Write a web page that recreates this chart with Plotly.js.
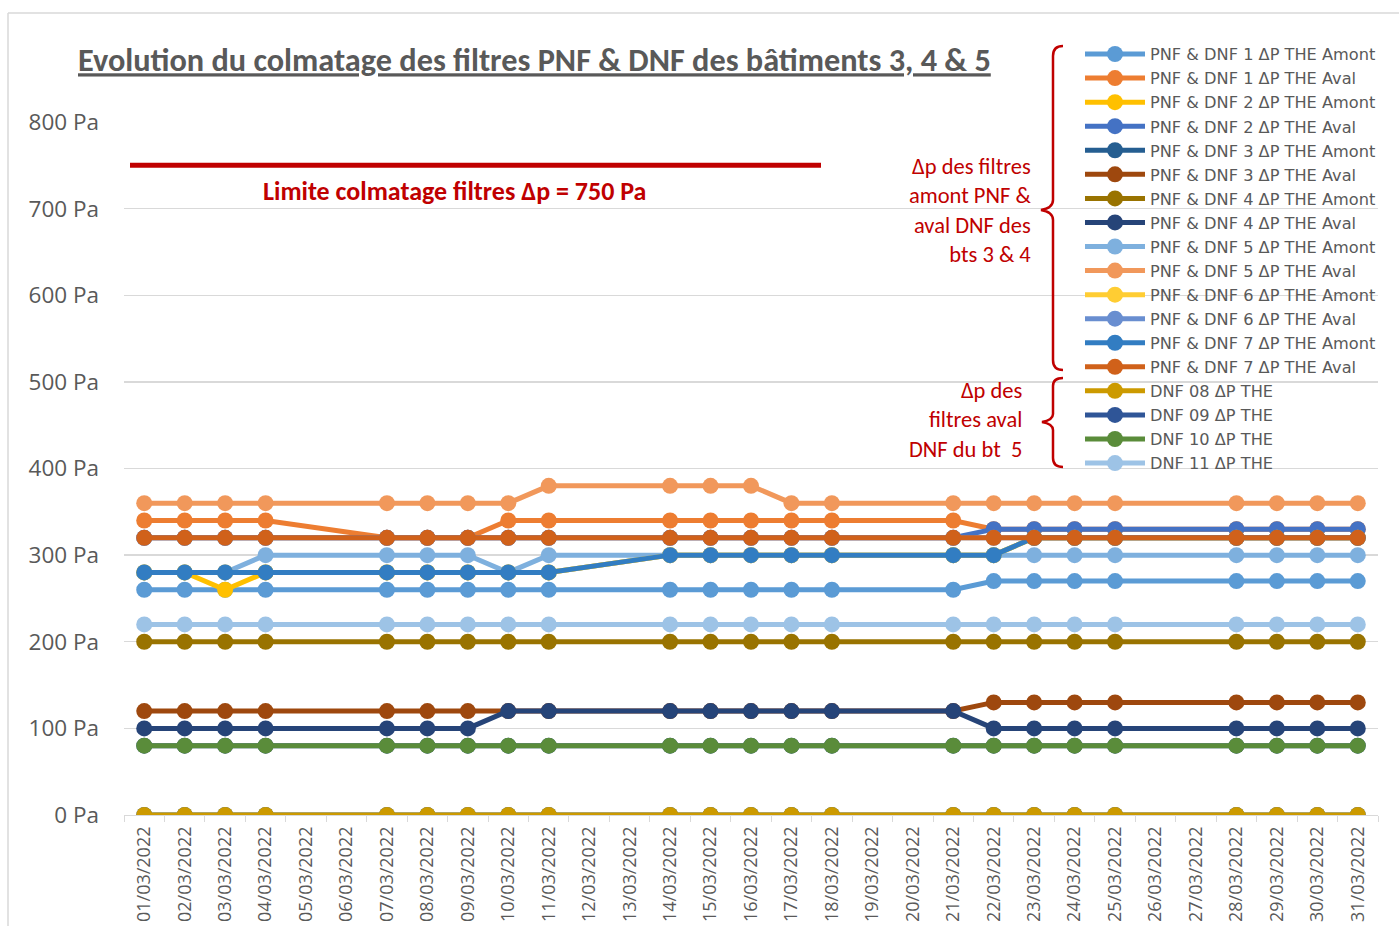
<!DOCTYPE html>
<html>
<head>
<meta charset="utf-8">
<script src="https://cdn.plot.ly/plotly-3.0.1.min.js"></script>
<style>
html,body{margin:0;padding:0;background:#fff;}
#chart{width:1399px;height:926px;}
</style>
</head>
<body>
<div id="chart"></div>
<script>
// ---- Data ----
var dates = ["01/03/2022","02/03/2022","03/03/2022","04/03/2022","05/03/2022","06/03/2022","07/03/2022","08/03/2022","09/03/2022","10/03/2022","11/03/2022","12/03/2022","13/03/2022","14/03/2022","15/03/2022","16/03/2022","17/03/2022","18/03/2022","19/03/2022","20/03/2022","21/03/2022","22/03/2022","23/03/2022","24/03/2022","25/03/2022","26/03/2022","27/03/2022","28/03/2022","29/03/2022","30/03/2022","31/03/2022"];
var n = null;
var pnf1Amont = [260,260,260,260,n,n,260,260,260,260,260,n,n,260,260,260,260,260,n,n,260,270,270,270,270,n,n,270,270,270,270];
var pnf1Aval  = [340,340,340,340,n,n,320,320,320,340,340,n,n,340,340,340,340,340,n,n,340,330,330,330,330,n,n,330,330,330,330];
var pnf2Amont = [280,280,260,280,n,n,280,280,280,280,280,n,n,300,300,300,300,300,n,n,300,300,320,320,320,n,n,320,320,320,320];
var pnf2Aval  = [320,320,320,320,n,n,320,320,320,320,320,n,n,320,320,320,320,320,n,n,320,330,330,330,330,n,n,330,330,330,330];
var pnf3Amont = [0,0,0,0,n,n,0,0,0,0,0,n,n,0,0,0,0,0,n,n,0,0,0,0,0,n,n,0,0,0,0];
var pnf3Aval  = [120,120,120,120,n,n,120,120,120,120,120,n,n,120,120,120,120,120,n,n,120,130,130,130,130,n,n,130,130,130,130];
var pnf4Amont = [200,200,200,200,n,n,200,200,200,200,200,n,n,200,200,200,200,200,n,n,200,200,200,200,200,n,n,200,200,200,200];
var pnf4Aval  = [100,100,100,100,n,n,100,100,100,120,120,n,n,120,120,120,120,120,n,n,120,100,100,100,100,n,n,100,100,100,100];
var pnf5Amont = [280,280,280,300,n,n,300,300,300,280,300,n,n,300,300,300,300,300,n,n,300,300,300,300,300,n,n,300,300,300,300];
var pnf5Aval  = [360,360,360,360,n,n,360,360,360,360,380,n,n,380,380,380,360,360,n,n,360,360,360,360,360,n,n,360,360,360,360];
var pnf6Amont = [280,280,280,280,n,n,280,280,280,280,280,n,n,300,300,300,300,300,n,n,300,300,320,320,320,n,n,320,320,320,320];
var pnf6Aval  = [320,320,320,320,n,n,320,320,320,320,320,n,n,320,320,320,320,320,n,n,320,320,320,320,320,n,n,320,320,320,320];
var pnf7Amont = [280,280,280,280,n,n,280,280,280,280,280,n,n,300,300,300,300,300,n,n,300,300,320,320,320,n,n,320,320,320,320];
var pnf7Aval  = [320,320,320,320,n,n,320,320,320,320,320,n,n,320,320,320,320,320,n,n,320,320,320,320,320,n,n,320,320,320,320];
var dnf08 = [0,0,0,0,n,n,0,0,0,0,0,n,n,0,0,0,0,0,n,n,0,0,0,0,0,n,n,0,0,0,0];
var dnf09 = [80,80,80,80,n,n,80,80,80,80,80,n,n,80,80,80,80,80,n,n,80,80,80,80,80,n,n,80,80,80,80];
var dnf10 = [80,80,80,80,n,n,80,80,80,80,80,n,n,80,80,80,80,80,n,n,80,80,80,80,80,n,n,80,80,80,80];
var dnf11 = [220,220,220,220,n,n,220,220,220,220,220,n,n,220,220,220,220,220,n,n,220,220,220,220,220,n,n,220,220,220,220];

var seriesNames = ["PNF & DNF 1 ΔP THE Amont","PNF & DNF 1 ΔP THE Aval","PNF & DNF 2 ΔP THE Amont","PNF & DNF 2 ΔP THE Aval","PNF & DNF 3 ΔP THE Amont","PNF & DNF 3 ΔP THE Aval","PNF & DNF 4 ΔP THE Amont","PNF & DNF 4 ΔP THE Aval","PNF & DNF 5 ΔP THE Amont","PNF & DNF 5 ΔP THE Aval","PNF & DNF 6 ΔP THE Amont","PNF & DNF 6 ΔP THE Aval","PNF & DNF 7 ΔP THE Amont","PNF & DNF 7 ΔP THE Aval","DNF 08 ΔP THE","DNF 09 ΔP THE","DNF 10 ΔP THE","DNF 11 ΔP THE"];
var seriesValues = [pnf1Amont,pnf1Aval,pnf2Amont,pnf2Aval,pnf3Amont,pnf3Aval,pnf4Amont,pnf4Aval,pnf5Amont,pnf5Aval,pnf6Amont,pnf6Aval,pnf7Amont,pnf7Aval,dnf08,dnf09,dnf10,dnf11];
var seriesColors = ["#5B9BD5","#ED7D31","#FFC000","#4472C4","#255E91","#9E480E","#997300","#264478","#7EB0DE","#F1985B","#FFCD33","#698ED0","#327DC2","#D0611A","#CC9A00","#2F5597","#5A8C3A","#9DC3E6"];
var limitValue = 750;
var yTickVals = [0,100,200,300,400,500,600,700,800];
var yTickText = ["0 Pa","100 Pa","200 Pa","300 Pa","400 Pa","500 Pa","600 Pa","700 Pa","800 Pa"];

// ---- Chart ----
var FONT = "Carlito, Calibri, Lato, sans-serif";
var FONT2 = "Open Sans, Noto Sans, sans-serif";
var FONT3 = "DejaVu Sans, Open Sans, sans-serif";
var GREY = "#595959";
var RED = "#C00000";

var traces = seriesNames.map(function(name, i){
  return {
    type: "scatter", mode: "lines+markers", name: name,
    x: dates, y: seriesValues[i], connectgaps: true,
    line: {color: seriesColors[i], width: 5},
    marker: {color: seriesColors[i], size: 16, symbol: "circle"}
  };
});

// pixel -> paper helpers for decorations
var L = 124, R = 21, T = 122, B = 111, W = 1399, H = 926;
var PW = W - L - R, PH = H - T - B;
function px(x){ return (x - L) / PW; }
function py(y){ return (H - B - y) / PH; }
function pathFrom(cmds){
  return cmds.map(function(c){
    var s = c[0];
    for (var k = 1; k < c.length; k += 2) s += (k>1?" ":"") + px(c[k]).toFixed(5) + "," + py(c[k+1]).toFixed(5);
    return s;
  }).join(" ");
}
var brace1 = pathFrom([["M",1063,46],["Q",1053,46,1053,56],["L",1053,200],["Q",1053,208,1041,210],["Q",1053,212,1053,220],["L",1053,360],["Q",1053,370,1063,370]]);
var brace2 = pathFrom([["M",1063,378],["Q",1053,378,1053,386],["L",1053,414],["Q",1053,420,1042,422],["Q",1053,424,1053,430],["L",1053,458],["Q",1053,467,1063,467]]);

var layout = {
  width: W, height: H,
  margin: {l: L, r: R, t: T, b: B},
  paper_bgcolor: "#ffffff", plot_bgcolor: "rgba(0,0,0,0)",
  font: {family: FONT, color: GREY},
  showlegend: true,
  title: {
    text: "Evolution du colmatage des filtres PNF & DNF des bâtiments 3, 4 & 5",
    font: {family: FONT, size: 32.3, color: GREY, weight: "bold", lineposition: "under"},
    xref: "container", yref: "container", x: 78/W, xanchor: "left", y: 1 - 60/H, yanchor: "middle"
  },
  xaxis: {
    type: "category", categoryorder: "array", categoryarray: dates,
    range: [-0.5, dates.length - 0.5],
    showgrid: false, zeroline: false,
    showline: true, linecolor: "#D9D9D9", linewidth: 1.3,
    ticks: "outside", tickson: "boundaries", ticklen: 6, tickcolor: "#D9D9D9",
    ticklabelstandoff: 3,
    tickangle: -90, tickfont: {family: FONT2, size: 18, color: GREY}
  },
  yaxis: {
    range: [0, 800], tickvals: yTickVals, ticktext: yTickText,
    showgrid: true, gridcolor: "#D9D9D9", gridwidth: 1.3,
    zeroline: false, showline: false, ticks: "", ticklabelstandoff: 24,
    tickfont: {family: FONT2, size: 22.5, color: GREY}
  },
  legend: {
    x: px(1080), xref: "paper", xanchor: "left",
    y: py(37), yref: "paper", yanchor: "top",
    bgcolor: "rgba(0,0,0,0)", borderwidth: 0,
    itemwidth: 60, tracegroupgap: 0, maxheight: 700,
    font: {family: FONT3, size: 16.2, color: GREY}
  },
  shapes: [
    {type: "line", xref: "paper", yref: "paper", x0: px(8), x1: px(1405), y0: py(13), y1: py(13), line: {color: "#D9D9D9", width: 1.5}, layer: "below"},
    {type: "line", xref: "paper", yref: "paper", x0: px(8), x1: px(8), y0: py(13), y1: py(935), line: {color: "#D9D9D9", width: 1.5}, layer: "below"},
    {type: "line", xref: "paper", yref: "y", x0: px(130), x1: px(821), y0: limitValue, y1: limitValue, line: {color: RED, width: 5}},
    {type: "path", xref: "paper", yref: "paper", path: brace1, line: {color: RED, width: 2.5}},
    {type: "path", xref: "paper", yref: "paper", path: brace2, line: {color: RED, width: 2.5}}
  ],
  annotations: [
    {text: "Limite colmatage filtres Δp = " + limitValue + " Pa", xref: "paper", yref: "paper", x: px(454), y: py(191), xanchor: "center", yanchor: "middle", showarrow: false,
     font: {family: FONT, size: 26, color: RED, weight: "bold"}},
    {text: "Δp des filtres<br>amont PNF &<br>aval DNF des<br>bts 3 & 4", xref: "paper", yref: "paper", x: px(1033), y: py(210), xanchor: "right", yanchor: "middle", align: "right", showarrow: false,
     font: {family: FONT, size: 22.5, color: RED}},
    {text: "Δp des<br>filtres aval<br>DNF du bt  5", xref: "paper", yref: "paper", x: px(1025), y: py(420), xanchor: "right", yanchor: "middle", align: "right", showarrow: false,
     font: {family: FONT, size: 22.5, color: RED}}
  ]
};

Plotly.newPlot("chart", traces, layout, {displayModeBar: false, staticPlot: true});
</script>
</body>
</html>
